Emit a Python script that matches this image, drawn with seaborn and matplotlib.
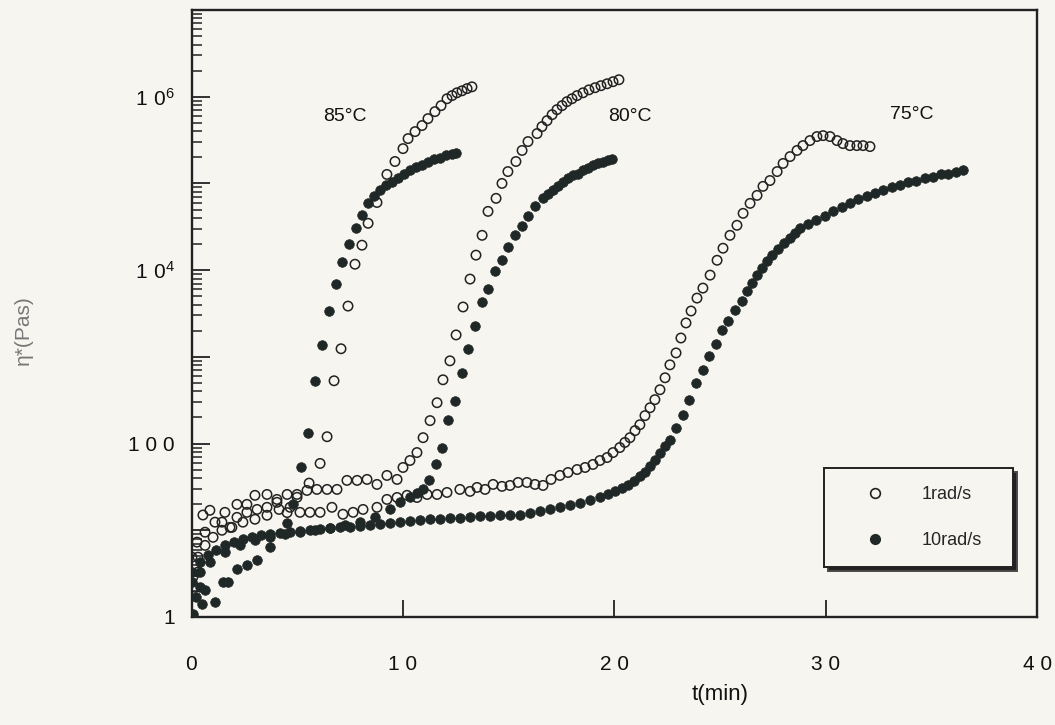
import numpy as np
import pandas as pd
import matplotlib
matplotlib.use("Agg")
import matplotlib.pyplot as plt
import seaborn as sns
from matplotlib.ticker import LogLocator, FixedLocator, FuncFormatter, NullFormatter
from matplotlib.lines import Line2D

# ---------------- data ----------------
# 85 °C
t_85_1 = [0.17, 0.31, 0.54, 0.87, 1.44, 1.82, 2.15, 2.62, 3.10, 3.57, 4.04, 4.52, 4.99, 5.56,
          6.08, 6.41, 6.74, 7.07, 7.40, 7.73, 8.06, 8.35, 8.77, 9.24, 9.62, 10.0, 10.24, 10.57,
          10.90, 11.18, 11.51, 11.80, 12.08, 12.32, 12.55, 12.79, 13.03, 13.26]
eta_85_1 = [2.2, 3.3, 15, 17, 12.4, 10.8, 14.1, 16.1, 17.4, 18.4, 21, 16, 24, 35,
            59, 120, 530, 1240, 3850, 1.17e4, 1.94e4, 3.47e4, 6.03e4, 1.27e5, 1.79e5, 2.52e5, 3.29e5, 3.96e5,
            4.65e5, 5.59e5, 6.73e5, 7.89e5, 9.48e5, 1.03e6, 1.11e6, 1.17e6, 1.24e6, 1.30e6]

t_85_10 = [0.07, 0.21, 0.40, 0.50, 0.64, 1.11, 1.49, 1.73, 2.15, 2.62, 3.10, 3.71, 4.52, 4.80,
           5.18, 5.51, 5.84, 6.17, 6.50, 6.83, 7.12, 7.45, 7.78, 8.06, 8.35, 8.63, 8.91, 9.20,
           9.48, 9.76, 10.05, 10.33, 10.61, 10.90, 11.18, 11.47, 11.75, 12.03, 12.32, 12.50]
eta_85_10 = [1.08, 1.70, 2.21, 1.41, 2.04, 1.49, 2.53, 2.53, 3.56, 3.96, 4.52, 6.38, 12.0, 19.9,
             53, 134, 530, 1370, 3380, 6900, 1.24e4, 1.99e4, 3.04e4, 4.29e4, 5.89e4, 7.10e4, 8.32e4, 9.49e4,
             1.05e5, 1.17e5, 1.30e5, 1.41e5, 1.53e5, 1.65e5, 1.79e5, 1.89e5, 1.99e5, 2.10e5, 2.21e5, 2.27e5]

# 80 °C
t_80_1 = [0.02, 0.26, 0.64, 1.11, 1.58, 2.15, 2.62, 3.00, 3.57, 4.04, 4.52, 4.99, 5.46, 5.93,
          6.41, 6.88, 7.35, 7.83, 8.30, 8.77, 9.24, 9.72, 10.0, 10.33, 10.66, 10.95, 11.28, 11.61,
          11.89, 12.22, 12.51, 12.84, 13.17, 13.45, 13.74, 14.02, 14.40, 14.68, 14.96, 15.34, 15.63,
          15.91, 16.34, 16.57, 16.81, 17.05, 17.28, 17.52, 17.75, 17.99, 18.23, 18.51, 18.79, 19.08,
          19.36, 19.65, 19.93, 20.21]
eta_80_1 = [4.9, 7.3, 9.5, 12.4, 16.1, 19.9, 19.9, 25.3, 25.9, 22.7, 25.9, 25.9, 28.8, 29.6,
            29.6, 29.6, 37.6, 37.6, 38.6, 33.8, 42.9, 38.6, 53, 63.8, 78.8, 117, 184, 296,
            544, 900, 1790, 3760, 7890, 1.49e4, 2.52e4, 4.76e4, 6.73e4, 1.0e5, 1.37e5, 1.79e5, 2.40e5,
            3.04e5, 3.76e5, 4.52e5, 5.30e5, 6.21e5, 7.10e5, 7.89e5, 8.77e5, 9.48e5, 1.03e6, 1.11e6, 1.20e6, 1.27e6,
            1.34e6, 1.41e6, 1.49e6, 1.57e6]

t_80_10 = [0.02, 0.40, 0.87, 1.58, 2.29, 3.00, 3.71, 4.42, 5.13, 5.84, 6.55, 7.26, 7.97, 8.68,
           9.39, 9.86, 10.33, 10.66, 10.95, 11.23, 11.56, 11.84, 12.13, 12.46, 12.79, 13.07, 13.40,
           13.74, 14.02, 14.35, 14.68, 14.96, 15.30, 15.63, 15.91, 16.24, 16.62, 16.86, 17.09, 17.33,
           17.57, 17.80, 18.04, 18.27, 18.51, 18.75, 18.98, 19.22, 19.46, 19.69, 19.88]
eta_80_10 = [2.5, 3.3, 4.3, 5.6, 6.7, 7.7, 8.3, 9.0, 9.5, 10.0, 10.5, 11.4, 12.4, 14.1,
             17.4, 21, 23.9, 26.6, 29.6, 37.6, 58.9, 90, 189, 312, 655, 1240, 2270,
             4290, 6050, 9750, 1.30e4, 1.84e4, 2.52e4, 3.21e4, 4.18e4, 5.44e4, 6.73e4, 7.48e4, 8.32e4, 9.25e4,
             1.05e5, 1.14e5, 1.24e5, 1.30e5, 1.41e5, 1.49e5, 1.61e5, 1.70e5, 1.79e5, 1.84e5, 1.89e5]

# 75 °C
t_75_1 = [0.07, 0.31, 0.64, 1.02, 1.44, 1.91, 2.43, 3.00, 3.57, 4.14, 4.66, 5.13, 5.60, 6.08,
          6.64, 7.16, 7.64, 8.11, 8.77, 9.24, 9.72, 10.19, 10.66, 11.14, 11.61, 12.08, 12.69, 13.17,
          13.50, 13.88, 14.26, 14.68, 15.06, 15.44, 15.86, 16.24, 16.62, 17.00, 17.42, 17.80, 18.23,
          18.61, 18.98, 19.31, 19.65, 19.93, 20.25, 20.49, 20.73, 20.97, 21.20, 21.44, 21.68, 21.91,
          22.15, 22.39, 22.62, 22.91, 23.14, 23.38, 23.62, 23.90, 24.18, 24.52, 24.85, 25.13, 25.46,
          25.79, 26.08, 26.41, 26.74, 27.02, 27.35, 27.69, 27.97, 28.30, 28.63, 28.91, 29.24, 29.57,
          29.86, 30.19, 30.52, 30.80, 31.13, 31.46, 31.75, 32.08]
eta_75_1 = [2.9, 4.9, 6.7, 8.3, 10.0, 10.8, 12.4, 13.4, 14.9, 17.4, 18.4, 16.1, 16.1, 16.1,
            18.4, 15.3, 16.1, 17.4, 18.4, 22.7, 23.9, 25.3, 23.9, 25.9, 25.9, 27.3, 29.6, 28.1,
            31.2, 29.6, 33.8, 32.1, 32.9, 35.6, 35.6, 33.8, 32.9, 38.6, 42.9, 46.4, 50.2,
            53, 57.4, 63.8, 69, 78.8, 90, 103, 117, 141, 165, 210, 259, 321,
            418, 574, 809, 1110, 1650, 2460, 3380, 4760, 6210, 8760, 1.30e4, 1.79e4, 2.52e4,
            3.29e4, 4.52e4, 5.89e4, 7.28e4, 9.25e4, 1.08e5, 1.37e5, 1.70e5, 2.04e5, 2.40e5, 2.73e5, 3.12e5, 3.47e5,
            3.56e5, 3.47e5, 3.12e5, 2.88e5, 2.73e5, 2.73e5, 2.73e5, 2.66e5]

t_75_10 = [0.02, 0.40, 0.78, 1.16, 1.58, 2.01, 2.43, 2.86, 3.29, 3.71, 4.18, 4.66, 5.13, 5.60,
           6.08, 6.55, 7.02, 7.49, 7.97, 8.44, 8.91, 9.39, 9.86, 10.33, 10.80, 11.28, 11.75, 12.22,
           12.69, 13.17, 13.64, 14.11, 14.59, 15.06, 15.53, 16.00, 16.48, 16.95, 17.42, 17.90, 18.37,
           18.84, 19.31, 19.69, 20.02, 20.35, 20.64, 20.92, 21.21, 21.44, 21.68, 21.91, 22.15, 22.39,
           22.62, 22.91, 23.24, 23.52, 23.85, 24.18, 24.47, 24.80, 25.08, 25.37, 25.70, 26.03, 26.27,
           26.50, 26.74, 26.97, 27.21, 27.45, 27.73, 28.01, 28.30, 28.53, 28.77, 29.15, 29.53, 29.95,
           30.33, 30.76, 31.13, 31.51, 31.94, 32.32, 32.70, 33.12, 33.50, 33.88, 34.26, 34.68, 35.06,
           35.44, 35.77, 36.15, 36.48]
eta_75_10 = [3.3, 4.3, 5.2, 6.0, 6.7, 7.3, 7.9, 8.3, 8.8, 9.0, 9.2, 9.5, 9.7, 10.0,
             10.3, 10.5, 10.8, 10.8, 11.1, 11.4, 11.7, 12.0, 12.4, 12.7, 13.0, 13.4, 13.4, 13.7,
             13.7, 14.1, 14.5, 14.5, 14.9, 14.9, 14.9, 15.7, 16.5, 17.4, 18.4, 19.4, 20.4,
             22.1, 23.9, 25.9, 28.1, 30.4, 32.9, 36.6, 41.8, 47.6, 54.4, 63.8, 78.8, 94.9,
             111, 153, 215, 321, 502, 709, 1030, 1410, 2040, 2590, 3470, 4400, 5740,
             7100, 8760, 1.05e4, 1.27e4, 1.49e4, 1.74e4, 2.04e4, 2.33e4, 2.66e4, 3.04e4, 3.38e4, 3.76e4, 4.18e4,
             4.76e4, 5.30e4, 5.89e4, 6.55e4, 7.10e4, 7.67e4, 8.32e4, 9.00e4, 9.49e4, 1.03e5, 1.08e5, 1.14e5, 1.20e5,
             1.27e5, 1.30e5, 1.37e5, 1.41e5]

temps = ["85°C", "80°C", "75°C"]
freq_labels = ["1rad/s", "10rad/s"]
y_tick_values = [1, 100, 1e4, 1e6]
y_tick_labels = ["1", "1 0 0", r"$\mathregular{1\ 0^{4}}$", r"$\mathregular{1\ 0^{6}}$"]
x_tick_values = [0, 10, 20, 30, 40]
x_tick_labels = ["0", "1 0", "2 0", "3 0", "4 0"]

series = [
    ("85°C", "1rad/s", t_85_1, eta_85_1),
    ("85°C", "10rad/s", t_85_10, eta_85_10),
    ("80°C", "1rad/s", t_80_1, eta_80_1),
    ("80°C", "10rad/s", t_80_10, eta_80_10),
    ("75°C", "1rad/s", t_75_1, eta_75_1),
    ("75°C", "10rad/s", t_75_10, eta_75_10),
]
frames = [pd.DataFrame({"temp": T, "freq": f, "t": t, "eta": e}) for T, f, t, e in series]
df = pd.concat(frames, ignore_index=True)

# ---------------- style ----------------
sns.set_theme(style="ticks")
BG = "#f7f5f0"
INK = "#222222"
FILL = "#1f2826"
plt.rcParams["font.family"] = ["Liberation Sans", "DejaVu Sans"]
plt.rcParams["mathtext.default"] = "regular"

fig = plt.figure(figsize=(10.55, 7.25), dpi=100, facecolor=BG)
ax = fig.add_axes([191.5 / 1055, (725 - 617) / 725, 846 / 1055, 607 / 725])
ax.set_facecolor(BG)

# draw open (1 rad/s) first, then filled (10 rad/s)
for T in temps:
    sub = df[(df.temp == T) & (df.freq == "1rad/s")]
    sns.scatterplot(data=sub, x="t", y="eta", ax=ax, marker="o", s=46,
                    facecolor="none", edgecolor=INK, linewidth=1.1, legend=False, zorder=3)
    ax.collections[-1].set_facecolor("none")
    ax.collections[-1].set_edgecolor(INK)
for T in temps:
    sub = df[(df.temp == T) & (df.freq == "10rad/s")]
    sns.scatterplot(data=sub, x="t", y="eta", ax=ax, marker="o", s=48,
                    color=FILL, edgecolor=FILL, linewidth=0.5, legend=False, zorder=4)

ax.set_yscale("log")
ax.set_xlim(0, 40)
ax.set_ylim(1, 1e7)

# y ticks
ax.yaxis.set_major_locator(LogLocator(base=10, numticks=50))
ax.yaxis.set_minor_locator(LogLocator(base=10, subs=np.arange(2, 10), numticks=200))
lab_map = dict(zip(y_tick_values, y_tick_labels))
ax.yaxis.set_major_formatter(FuncFormatter(lambda v, p: next((l for k, l in lab_map.items() if abs(v / k - 1) < 1e-6), "")))
ax.yaxis.set_minor_formatter(NullFormatter())
ax.xaxis.set_major_locator(FixedLocator(x_tick_values))
ax.set_xticklabels(x_tick_labels)

ax.tick_params(axis="y", which="major", direction="in", length=13, width=1.3, color=INK,
               labelsize=15, pad=12, labelcolor="#111")
ax.tick_params(axis="y", which="minor", direction="in", length=7, width=1.1, color=INK)
ax.tick_params(axis="x", which="major", direction="in", length=12, width=1.3, color=INK,
               labelsize=15, pad=27, labelcolor="#111")
ax.tick_params(top=False, right=False, which="both")

for sp in ax.spines.values():
    sp.set_visible(True)
    sp.set_linewidth(1.7)
    sp.set_color(INK)

ax.set_xlabel("t(min)", fontsize=16, color="#111")
ax.xaxis.set_label_coords(0.625, -0.11)
ax.set_ylabel("η*(Pas)", fontsize=15, color="#777777")
ax.yaxis.set_label_coords(-0.188, 0.473)

# temperature labels
ax.text(7.26, 5.9e5, "85°C", ha="center", va="center", fontsize=14, color="#111")
ax.text(20.73, 5.9e5, "80°C", ha="center", va="center", fontsize=14, color="#111")
ax.text(34.07, 6.3e5, "75°C", ha="center", va="center", fontsize=14, color="#111")

# legend
handles = [
    Line2D([], [], ls="none", marker="o", ms=7, mfc="none", mec=INK, mew=1.2),
    Line2D([], [], ls="none", marker="o", ms=7, mfc=FILL, mec=FILL),
]
leg = ax.legend(handles, freq_labels, loc="lower left",
                bbox_to_anchor=(0.748, 0.082, 0.223, 0.155), mode="expand",
                borderaxespad=0.0, frameon=True, fancybox=False, fontsize=13,
                borderpad=1.0, labelspacing=1.6, handlelength=3.6, handletextpad=0.8,
                shadow={"ox": 3, "oy": -3, "facecolor": INK, "alpha": 1})
leg.get_frame().set_edgecolor(INK)
leg.get_frame().set_linewidth(1.4)
leg.get_frame().set_facecolor(BG)
leg.get_frame().set_alpha(1)

fig.savefig("out.png", dpi=100, facecolor=BG)
